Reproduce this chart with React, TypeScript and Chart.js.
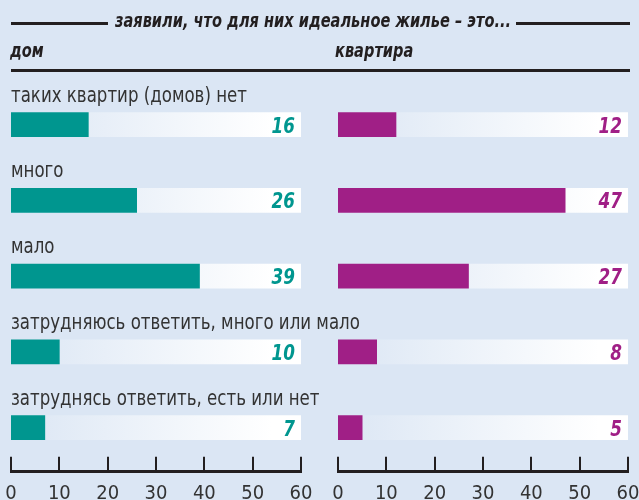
import React, { useEffect, useRef } from "react";
import { Chart, registerables } from "chart.js";

Chart.register(...registerables);

// ---- data ----
const chartTitle = "заявили, что для них идеальное жилье – это...";
const panelTitles = ["дом", "квартира"];
const categories = [
  "таких квартир (домов) нет",
  "много",
  "мало",
  "затрудняюсь ответить, много или мало",
  "затруднясь ответить, есть или нет",
];
const houseValues = [16, 26, 39, 10, 7];
const flatValues = [12, 47, 27, 8, 5];
const xMin = 0;
const xMax = 60;
const xStep = 10;

// ---- styles ----
const FONT = "'Liberation Sans Narrow', 'Arial Narrow', 'DejaVu Sans Condensed', Roboto, sans-serif";
const BG = "#dbe6f4";
const INK = "#231f20";
const TEXT = "#333333";
const TEAL = "#00968f";
const MAGENTA = "#a01f86";

// draw horizontally condensed text
function fillScaled(
  ctx: CanvasRenderingContext2D,
  text: string,
  x: number,
  y: number,
  sx: number,
  align: CanvasTextAlign
) {
  ctx.save();
  ctx.translate(x, y);
  ctx.scale(sx, 1);
  ctx.textAlign = align;
  ctx.fillText(text, 0, 0);
  ctx.restore();
}

function buildChart(
  canvas: HTMLCanvasElement,
  values: number[],
  color: string,
  side: "left" | "right"
) {
  const padding =
    side === "left"
      ? { top: 87, left: 11, right: 338, bottom: 0 }
      : { top: 87, left: 338, right: 11, bottom: 0 };

  const valueLabels = {
    id: "valueLabels" + side,
    afterDatasetsDraw(chart: any) {
      const ctx = chart.ctx;
      const xs = chart.scales.x;
      const meta = chart.getDatasetMeta(0);
      ctx.save();
      ctx.font = `italic bold 22px ${FONT}`;
      ctx.fillStyle = color;
      ctx.textBaseline = "alphabetic";
      meta.data.forEach((el: any, i: number) => {
        fillScaled(ctx, String(values[i]), xs.getPixelForValue(xMax) - 6, el.y + 8, 0.85, "right");
      });
      ctx.restore();
    },
  };

  const axisTicks = {
    id: "axisTicks" + side,
    afterDraw(chart: any) {
      const ctx = chart.ctx;
      const xs = chart.scales.x;
      const bottom = chart.chartArea.bottom;
      ctx.save();
      ctx.strokeStyle = INK;
      ctx.lineWidth = 2;
      xs.ticks.forEach((t: any) => {
        const x = Math.round(xs.getPixelForValue(t.value));
        ctx.beginPath();
        ctx.moveTo(x, bottom - 15);
        ctx.lineTo(x, bottom);
        ctx.stroke();
      });
      ctx.restore();
    },
  };

  const header = {
    id: "header" + side,
    afterDraw(chart: any) {
      const ctx = chart.ctx;
      const ys = chart.scales.y;
      ctx.save();
      ctx.textBaseline = "alphabetic";
      // category labels
      ctx.font = `21px ${FONT}`;
      ctx.fillStyle = TEXT;
      categories.forEach((c, i) => {
        fillScaled(ctx, c, 11, ys.getPixelForValue(i) - 23, 0.88, "left");
      });
      // title with rules
      const sx = 0.81;
      ctx.font = `italic bold 20px ${FONT}`;
      ctx.fillStyle = INK;
      const w = ctx.measureText(chartTitle).width * sx;
      const cx = 313;
      fillScaled(ctx, chartTitle, cx, 26.5, sx, "center");
      ctx.strokeStyle = INK;
      ctx.lineWidth = 3;
      ctx.beginPath();
      ctx.moveTo(11, 23.5);
      ctx.lineTo(cx - w / 2 - 7, 23.5);
      ctx.moveTo(cx + w / 2 + 5, 23.5);
      ctx.lineTo(630, 23.5);
      ctx.stroke();
      // panel titles
      fillScaled(ctx, panelTitles[0], 10, 56.5, sx, "left");
      fillScaled(ctx, panelTitles[1], 335, 56.5, sx, "left");
      ctx.beginPath();
      ctx.moveTo(11, 70.5);
      ctx.lineTo(630, 70.5);
      ctx.stroke();
      ctx.restore();
    },
  };

  return new Chart(canvas, {
    type: "bar",
    data: {
      datasets: [
        {
          label: "value",
          data: values.map((v, i) => ({ x: v, y: i })),
          backgroundColor: color,
          barThickness: 24,
          grouped: false,
          order: 0,
        } as any,
        {
          label: "track",
          data: values.map((_, i) => ({ x: xMax, y: i })),
          backgroundColor: (c: any) => {
            const a = c.chart.chartArea;
            if (!a) return "#ffffff";
            const g = c.chart.ctx.createLinearGradient(a.left, 0, a.right, 0);
            g.addColorStop(0, BG);
            g.addColorStop(0.9, "#ffffff");
            g.addColorStop(1, "#ffffff");
            return g;
          },
          barThickness: 24,
          grouped: false,
          order: 1,
        } as any,
      ],
    },
    options: {
      indexAxis: "y",
      animation: false,
      responsive: false,
      maintainAspectRatio: false,
      layout: { padding },
      plugins: {
        legend: { display: false },
        tooltip: { enabled: false },
        title: { display: false },
      },
      scales: {
        y: {
          type: "linear",
          reverse: true,
          offset: false,
          min: -0.4977,
          max: 4.581,
          display: false,
        },
        x: {
          type: "linear",
          position: "bottom",
          offset: false,
          min: xMin,
          max: xMax,
          ticks: {
            stepSize: xStep,
            color: TEXT,
            padding: 10,
            font: { family: FONT, size: 20 },
            maxRotation: 0,
            autoSkip: false,
          },
          grid: { display: false, drawTicks: false },
          border: { display: true, color: INK, width: 3 },
          afterFit: (s: any) => {
            s.height = 28.3;
            s.paddingLeft = 0;
            s.paddingRight = 0;
          },
        },
      },
    } as any,
    plugins: side === "left" ? [header, valueLabels, axisTicks] : [valueLabels, axisTicks],
  });
}

export default function App() {
  const leftRef = useRef<HTMLCanvasElement>(null);
  const rightRef = useRef<HTMLCanvasElement>(null);

  useEffect(() => {
    const a = buildChart(leftRef.current!, houseValues, TEAL, "left");
    const b = buildChart(rightRef.current!, flatValues, MAGENTA, "right");
    return () => {
      a.destroy();
      b.destroy();
    };
  }, []);

  const canvasStyle: React.CSSProperties = {
    position: "absolute",
    left: 0,
    top: 0,
    width: 639,
    height: 500,
  };

  return (
    <div
      style={{
        position: "fixed",
        left: 0,
        top: 0,
        width: 639,
        height: 500,
        background: BG,
        overflow: "hidden",
      }}
    >
      <canvas ref={leftRef} width={639} height={500} style={canvasStyle} />
      <canvas ref={rightRef} width={639} height={500} style={canvasStyle} />
    </div>
  );
}
